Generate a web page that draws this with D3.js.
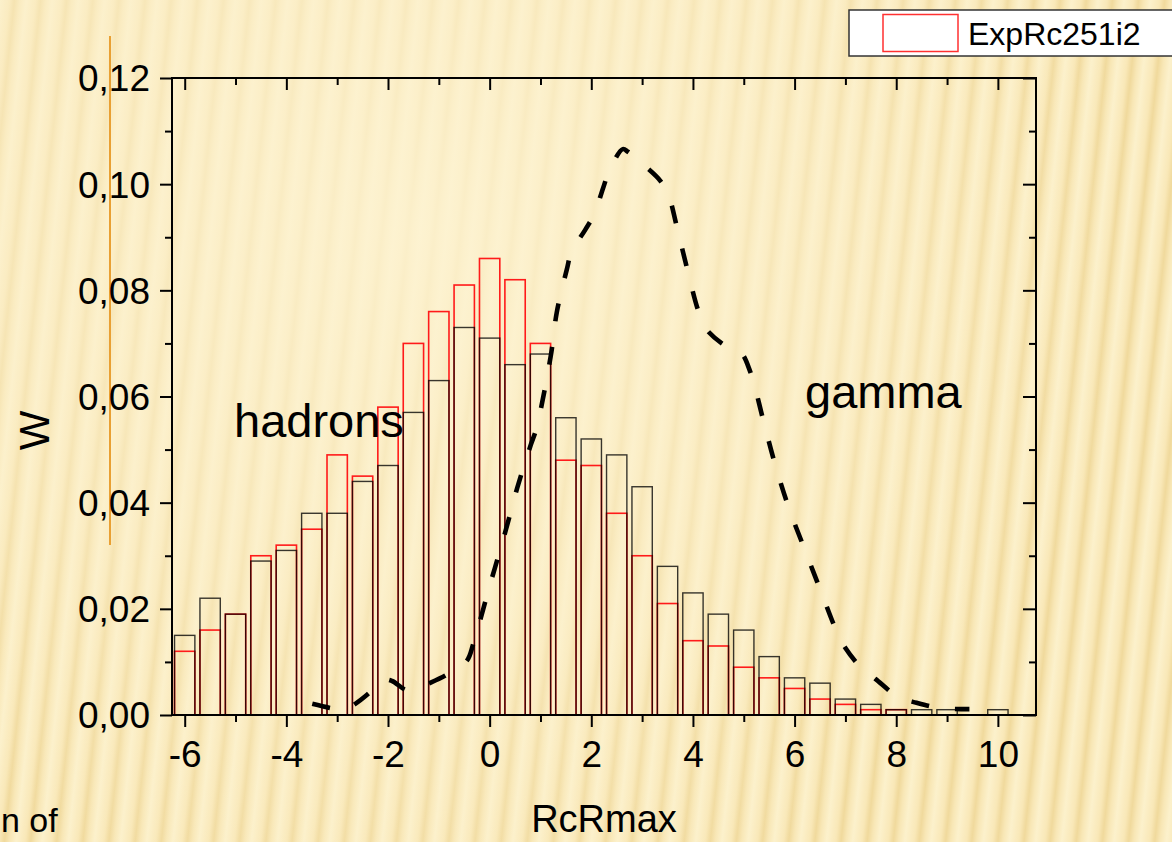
<!DOCTYPE html>
<html>
<head>
<meta charset="utf-8">
<script src="https://cdn.jsdelivr.net/npm/d3@7"></script>
<style>
  html, body { margin: 0; padding: 0; overflow: hidden; background: #f8e9bc; }
  svg { display: block; }
</style>
</head>
<body>
<svg id="chart" width="1172" height="842"></svg>
<script>
// Histogram bin centres (RcRmax), bin width 0.5
const binCenters = [-6, -5.5, -5, -4.5, -4, -3.5, -3, -2.5, -2, -1.5, -1, -0.5, 0, 0.5, 1, 1.5,
                    2, 2.5, 3, 3.5, 4, 4.5, 5, 5.5, 6, 6.5, 7, 7.5, 8, 8.5, 9, 9.5, 10];

// Experimental distribution ExpRc251i2 (red outline)
const expRc251i2 = [0.012, 0.016, 0.019, 0.030, 0.032, 0.035, 0.049, 0.045, 0.058, 0.070, 0.076,
                    0.081, 0.086, 0.082, 0.070, 0.048, 0.047, 0.038, 0.030, 0.021, 0.014, 0.013,
                    0.009, 0.007, 0.005, 0.003, 0.002, 0.001, 0.001, 0, 0, 0, 0];

// Hadron distribution (black outline)
const hadronsW = [0.015, 0.022, 0.019, 0.029, 0.031, 0.038, 0.038, 0.044, 0.047, 0.057, 0.063,
                  0.073, 0.071, 0.066, 0.068, 0.056, 0.052, 0.049, 0.043, 0.028, 0.023, 0.019,
                  0.016, 0.011, 0.007, 0.006, 0.003, 0.002, 0.001, 0.001, 0.001, 0, 0.001];

// Gamma distribution (dashed curve)
const gammaX = [-3.49, -3.12, -2.85, -2.63, -2.39, -2.08, -1.92, -1.64, -1.45, -1.23, -0.86,
                -0.45, -0.32, 0.00, 0.32, 0.54, 0.81, 0.92, 1.20, 1.32, 1.52, 1.61, 1.88, 2.06,
                2.23, 2.35, 2.62, 2.72, 2.96, 3.37, 3.54, 3.67, 3.88, 4.11, 4.26, 4.68, 4.94,
                5.13, 5.39, 5.62, 5.88, 6.19, 6.51, 6.83, 7.00, 7.31, 7.59, 8.04, 8.40, 8.87, 9.44];
const gammaW = [0.0021, 0.0013, 0.0010, 0.0022, 0.0040, 0.0066, 0.0064, 0.0047, 0.0049, 0.0058, 0.0075,
                0.0102, 0.0135, 0.0243, 0.0349, 0.0427, 0.0509, 0.0540, 0.0675, 0.0758, 0.0840, 0.0872,
                0.0914, 0.0944, 0.0992, 0.1024, 0.1066, 0.1061, 0.1042, 0.1005, 0.0973, 0.0925, 0.0843,
                0.0760, 0.0727, 0.0693, 0.0683, 0.0646, 0.0553, 0.0471, 0.0392, 0.0314, 0.0235, 0.0157,
                0.0126, 0.0089, 0.0068, 0.0034, 0.0023, 0.0013, 0.0011];

// Axis ticks
const xMajorTicks = [-6, -4, -2, 0, 2, 4, 6, 8, 10];
const xMinorTicks = [-5, -3, -1, 1, 3, 5, 7, 9];
const yMajorTicks = [0, 0.02, 0.04, 0.06, 0.08, 0.10, 0.12];
const yMinorTicks = [0.01, 0.03, 0.05, 0.07, 0.09, 0.11];

const FONT = "'Liberation Sans', Arial, Helvetica, sans-serif";
const svg = d3.select("#chart");
const W = 1172, H = 842;

// ---------- slide background with soft stripes ----------
const defs = svg.append("defs");
const sg = defs.append("linearGradient").attr("id", "stripeGrad")
  .attr("x1", 0).attr("x2", 1).attr("y1", 0).attr("y2", 0);
[[0, "#fcf1cc"], [0.35, "#f9e8b8"], [0.55, "#f0d99c"], [0.75, "#f8e7b6"], [1, "#fcf1cc"]]
  .forEach(([o, c]) => sg.append("stop").attr("offset", o).attr("stop-color", c));
const pat = defs.append("pattern").attr("id", "stripes")
  .attr("patternUnits", "userSpaceOnUse").attr("width", 26).attr("height", 2000)
  .attr("patternTransform", "rotate(6)");
pat.append("rect").attr("width", 26).attr("height", 2000).attr("fill", "url(#stripeGrad)");

const glow = defs.append("radialGradient").attr("id", "glow")
  .attr("gradientUnits", "userSpaceOnUse").attr("cx", 420).attr("cy", 230).attr("r", 720);
glow.append("stop").attr("offset", 0).attr("stop-color", "#fdf3d2").attr("stop-opacity", 0.85);
glow.append("stop").attr("offset", 0.55).attr("stop-color", "#fcf0cc").attr("stop-opacity", 0.55);
glow.append("stop").attr("offset", 1).attr("stop-color", "#fcf0cc").attr("stop-opacity", 0);

svg.append("rect").attr("width", W).attr("height", H).attr("fill", "#f8e9bc");
svg.append("rect").attr("width", W).attr("height", H).attr("fill", "url(#stripes)");
svg.append("rect").attr("width", W).attr("height", H).attr("fill", "url(#glow)");

// slide decoration: orange rule and body text fragment
svg.append("line").attr("x1", 110).attr("x2", 110).attr("y1", 36).attr("y2", 545)
  .attr("stroke", "#e9a033").attr("stroke-width", 2);
svg.append("text").attr("x", 1).attr("y", 832)
  .attr("font-family", FONT).attr("font-size", 34).attr("fill", "#000").text("n of");

// ---------- plot frame & scales ----------
const plot = { left: 172, right: 1036, top: 78, bottom: 715 };
const x = d3.scaleLinear().domain([-6.25, 10.75]).range([plot.left, plot.right]);
const y = d3.scaleLinear().domain([0, 0.12]).range([plot.bottom, plot.top]);
const binHalf = 0.2; // drawn bar half-width in x units

// red experimental bars, black hadron bars drawn over them
const g = svg.append("g");
const expData = binCenters.map((c, i) => ({ c, v: expRc251i2[i] })).filter(d => d.v > 0);
const hadData = binCenters.map((c, i) => ({ c, v: hadronsW[i] })).filter(d => d.v > 0);

g.selectAll("rect.exp").data(expData).join("rect").attr("class", "exp")
  .attr("x", d => x(d.c - binHalf)).attr("width", d => x(d.c + binHalf) - x(d.c - binHalf))
  .attr("y", d => y(d.v)).attr("height", d => y(0) - y(d.v))
  .attr("fill", "none").attr("stroke", "#ff1a1a").attr("stroke-width", 1.6);

g.selectAll("rect.had").data(hadData).join("rect").attr("class", "had")
  .attr("x", d => x(d.c - binHalf)).attr("width", d => x(d.c + binHalf) - x(d.c - binHalf))
  .attr("y", d => y(d.v)).attr("height", d => y(0) - y(d.v))
  .attr("fill", "none").attr("stroke", "#000").attr("stroke-opacity", 0.78).attr("stroke-width", 1.4);

// gamma dashed curve
const gammaPts = gammaX.map((gx, i) => [gx, gammaW[i]]);
const line = d3.line().x(d => x(d[0])).y(d => y(d[1])).curve(d3.curveCatmullRom.alpha(0.5));
svg.append("path").datum(gammaPts).attr("d", line)
  .attr("fill", "none").attr("stroke", "#000").attr("stroke-width", 4.6)
  .attr("stroke-dasharray", "18,26");

// ---------- axes ----------
const locale = d3.formatLocale({ decimal: ",", thousands: ".", grouping: [3], currency: ["", ""], minus: "-" });
const yFmt = locale.format(".2f");
const xFmt = locale.format("d");

function styleAxis(sel) {
  sel.selectAll("line").attr("stroke", "#000").attr("stroke-width", 2);
  sel.selectAll("text").attr("font-family", FONT).attr("fill", "#000");
  sel.select(".domain").remove();
}

// bottom: outward ticks with labels
svg.append("g").attr("transform", `translate(0,${plot.bottom})`)
  .call(d3.axisBottom(x).tickValues(xMajorTicks).tickSize(12).tickPadding(14).tickFormat(xFmt))
  .call(styleAxis)
  .call(s => s.selectAll("text").attr("font-size", 37));
svg.append("g").attr("transform", `translate(0,${plot.bottom})`)
  .call(d3.axisBottom(x).tickValues(xMinorTicks).tickSize(7).tickFormat(""))
  .call(styleAxis);

// top: inward ticks
svg.append("g").attr("transform", `translate(0,${plot.top})`)
  .call(d3.axisBottom(x).tickValues(xMajorTicks).tickSize(12).tickFormat(""))
  .call(styleAxis);
svg.append("g").attr("transform", `translate(0,${plot.top})`)
  .call(d3.axisBottom(x).tickValues(xMinorTicks).tickSize(7).tickFormat(""))
  .call(styleAxis);

// left: outward ticks with labels
svg.append("g").attr("transform", `translate(${plot.left},0)`)
  .call(d3.axisLeft(y).tickValues(yMajorTicks).tickSize(12).tickPadding(10).tickFormat(yFmt))
  .call(styleAxis)
  .call(s => s.selectAll("text").attr("font-size", 37).attr("dy", "0.35em"));
svg.append("g").attr("transform", `translate(${plot.left},0)`)
  .call(d3.axisLeft(y).tickValues(yMinorTicks).tickSize(7).tickFormat(""))
  .call(styleAxis);

// right: inward ticks
svg.append("g").attr("transform", `translate(${plot.right},0)`)
  .call(d3.axisLeft(y).tickValues(yMajorTicks).tickSize(13).tickFormat(""))
  .call(styleAxis);
svg.append("g").attr("transform", `translate(${plot.right},0)`)
  .call(d3.axisLeft(y).tickValues(yMinorTicks).tickSize(7).tickFormat(""))
  .call(styleAxis);

// frame
svg.append("rect").attr("x", plot.left).attr("y", plot.top)
  .attr("width", plot.right - plot.left).attr("height", plot.bottom - plot.top)
  .attr("fill", "none").attr("stroke", "#000").attr("stroke-width", 2);

// axis titles
svg.append("text").attr("x", (plot.left + plot.right) / 2).attr("y", 832)
  .attr("text-anchor", "middle").attr("font-family", FONT).attr("font-size", 38)
  .text("RcRmax");
svg.append("text").attr("transform", `translate(49,${(plot.top + plot.bottom) / 2 + 34}) rotate(-90)`)
  .attr("text-anchor", "middle").attr("font-family", FONT).attr("font-size", 42)
  .text("W");

// annotations
svg.append("text").attr("x", 234).attr("y", 437).attr("font-family", FONT).attr("font-size", 47)
  .text("hadrons");
svg.append("text").attr("x", 805).attr("y", 408).attr("font-family", FONT).attr("font-size", 47)
  .text("gamma");

// legend
const lg = svg.append("g");
lg.append("rect").attr("x", 849).attr("y", 10).attr("width", 340).attr("height", 46)
  .attr("fill", "#fff").attr("stroke", "#333").attr("stroke-width", 1.5);
lg.append("rect").attr("x", 883).attr("y", 14.5).attr("width", 75).attr("height", 37)
  .attr("fill", "#fff").attr("stroke", "#ff3030").attr("stroke-width", 1.5);
lg.append("text").attr("x", 968).attr("y", 44.5).attr("font-family", FONT).attr("font-size", 32)
  .text("ExpRc251i2");
</script>
</body>
</html>
